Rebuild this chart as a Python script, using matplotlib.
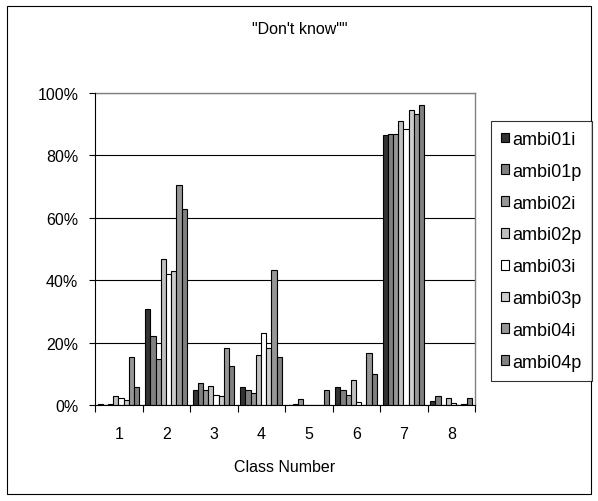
import matplotlib
matplotlib.use("Agg")
import matplotlib.pyplot as plt
from matplotlib.patches import Patch, Rectangle
import numpy as np

plt.rcParams['font.family'] = ['Liberation Sans', 'DejaVu Sans']

categories = ['1', '2', '3', '4', '5', '6', '7', '8']
series_names = ['ambi01i', 'ambi01p', 'ambi02i', 'ambi02p', 'ambi03i', 'ambi03p', 'ambi04i', 'ambi04p']
ambi01i = [0.3, 30.7, 4.8, 5.7, 0.0, 5.8, 86.5, 1.4]
ambi01p = [0.0, 22.0, 7.0, 4.8, 0.3, 4.7, 87.0, 2.9]
ambi02i = [0.3, 14.7, 4.7, 3.7, 1.8, 3.1, 87.0, 0.0]
ambi02p = [2.8, 46.8, 6.2, 15.9, 0.0, 8.1, 91.0, 2.4]
ambi03i = [2.3, 42.0, 3.3, 23.0, 0.0, 0.9, 88.5, 0.5]
ambi03p = [1.5, 42.9, 2.8, 18.3, 0.0, 0.0, 94.6, 0.0]
ambi04i = [15.3, 70.5, 18.3, 43.4, 0.0, 16.8, 93.3, 0.3]
ambi04p = [5.7, 62.7, 12.4, 15.3, 4.7, 10.0, 96.0, 2.4]
series = [ambi01i, ambi01p, ambi02i, ambi02p, ambi03i, ambi03p, ambi04i, ambi04p]
colors = ['#333333', '#808080', '#969696', '#c0c0c0', '#ffffff', '#cccccc', '#969696', '#808080']
yticks = [0, 20, 40, 60, 80, 100]
ytick_labels = ['0%', '20%', '40%', '60%', '80%', '100%']

W, H = 598, 502
fig = plt.figure(figsize=(W / 100, H / 100), dpi=100)
ax = fig.add_axes([95 / W, 1 - 406 / H, (475 - 95) / W, (406 - 94) / H])

bw = 5.2 / 47.5
x = np.arange(len(categories))
for i, (vals, c, name) in enumerate(zip(series, colors, series_names)):
    centers = x - 0.5 + 0.055 + bw * (i + 0.5)
    ax.bar(centers, vals, width=bw, color=c, edgecolor='black', linewidth=0.8, zorder=3, label=name)

fs = 11.5
ax.set_xlim(-0.5, len(categories) - 0.5)
ax.set_ylim(0, 100)
ax.set_yticks(yticks)
ax.set_yticklabels(ytick_labels, fontsize=fs)
ax.set_xticks(x)
ax.set_xticklabels(categories, fontsize=fs)
ax.set_xticks(np.arange(len(categories) + 1) - 0.5, minor=True)
ax.tick_params(axis='x', which='major', length=0, pad=15)
ax.tick_params(axis='x', which='minor', length=5, width=0.8, direction='out')
ax.tick_params(axis='y', which='major', length=4, width=0.8, direction='out', pad=8)
ax.yaxis.grid(True, color='black', linewidth=0.8, zorder=1)
ax.set_axisbelow(True)
for s in ['top', 'right']:
    ax.spines[s].set_color('#808080')
    ax.spines[s].set_linewidth(1.0)
for s in ['left', 'bottom']:
    ax.spines[s].set_color('black')
    ax.spines[s].set_linewidth(0.8)
    ax.spines[s].set_zorder(4)

ax.set_xlabel('Class Number', fontsize=fs, labelpad=13)
fig.text(0.502, 1 - 30 / H, '"Don\'t know""', fontsize=fs, ha='center', va='center')

handles = [Patch(facecolor=c, edgecolor='black', linewidth=0.8) for c in colors]
leg = fig.legend(handles, series_names, loc='upper left',
                 bbox_to_anchor=(491 / W, 1 - 122 / H), fontsize=13,
                 frameon=True, fancybox=False, shadow=False,
                 handlelength=0.45, handleheight=0.45, handletextpad=0.2,
                 labelspacing=0.82, borderpad=0.55, borderaxespad=0)
leg.get_frame().set_edgecolor('black')
leg.get_frame().set_linewidth(0.8)

fig.add_artist(Rectangle((7 / W, 7 / H), (W - 14) / W, (H - 14) / H,
                         transform=fig.transFigure, fill=False,
                         edgecolor='black', linewidth=0.8))

fig.savefig('out.png', dpi=100)
